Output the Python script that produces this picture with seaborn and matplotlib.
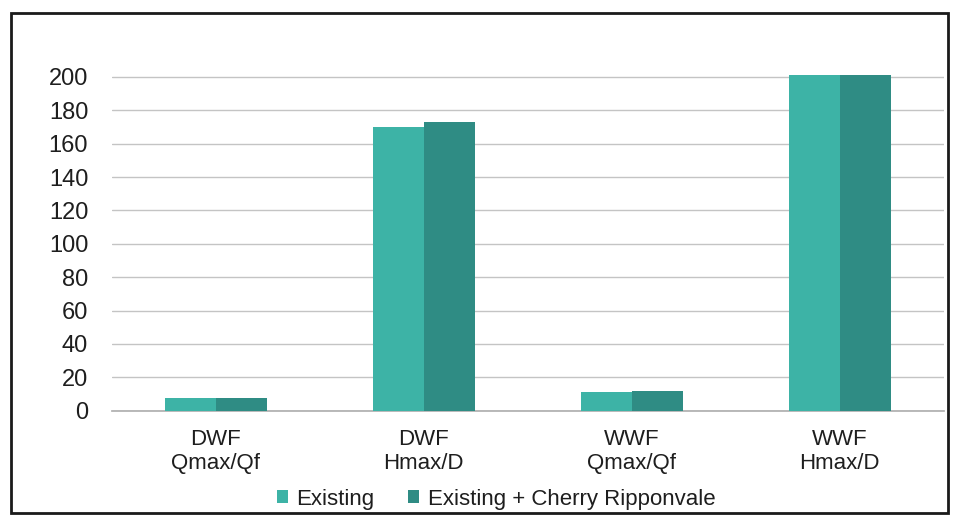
import matplotlib
matplotlib.use("Agg")
import matplotlib.pyplot as plt
from matplotlib.patches import Rectangle
import seaborn as sns
import pandas as pd

categories = ["DWF\nQmax/Qf", "DWF\nHmax/D", "WWF\nQmax/Qf", "WWF\nHmax/D"]
series_names = ["Existing", "Existing + Cherry Ripponvale"]
existing = [7.5, 170, 11, 201]
with_cherry = [7.5, 173, 12, 201]
y_ticks = [0, 20, 40, 60, 80, 100, 120, 140, 160, 180, 200]

colors = ["#3db3a6", "#2f8c84"]

df = pd.DataFrame({
    "category": categories * 2,
    "scenario": [series_names[0]] * 4 + [series_names[1]] * 4,
    "value": existing + with_cherry,
})

sns.set_theme(style="white")
plt.rcParams["font.family"] = ["Liberation Sans", "DejaVu Sans"]

fig = plt.figure(figsize=(9.56, 5.18), dpi=100)
ax = fig.add_axes([0.117, 0.207, 0.870, 0.651])

sns.barplot(data=df, x="category", y="value", hue="scenario",
            order=categories, hue_order=series_names,
            palette=colors, width=0.49, gap=0, saturation=1,
            edgecolor="none", ax=ax, zorder=3)

ax.set_ylim(0, 202)
ax.set_xlim(-0.5, 3.5)
ax.set_yticks(y_ticks)
ax.set_yticklabels([str(t) for t in y_ticks], fontsize=17, color="#1e1e1e")
ax.tick_params(axis="x", labelsize=16, colors="#1e1e1e", length=0, pad=13)
ax.tick_params(axis="y", length=0, pad=17)
ax.set_xlabel("")
ax.set_ylabel("")
ax.grid(axis="y", color="#c4c4c4", linewidth=1.0, zorder=0)
ax.set_axisbelow(True)
for s in ["top", "right", "left"]:
    ax.spines[s].set_visible(False)
ax.spines["bottom"].set_color("#b0b0b0")

leg = ax.legend(loc="center", bbox_to_anchor=(0.462, -0.262), ncol=2,
                frameon=False, fontsize=16, handlelength=0.5, handleheight=0.5,
                handletextpad=0.4, columnspacing=1.5)
for t in leg.get_texts():
    t.set_color("#1e1e1e")

# outer frame around the chart
fig.patches.append(Rectangle((0.011, 0.01), 0.981, 0.965, transform=fig.transFigure,
                             fill=False, edgecolor="#1a1a1a", linewidth=2.0))

fig.savefig("out.png", dpi=100)
